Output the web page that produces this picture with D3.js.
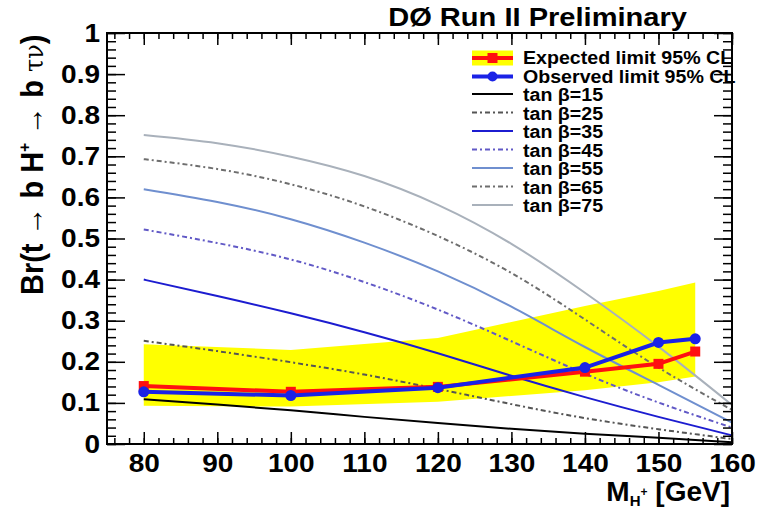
<!DOCTYPE html>
<html lang="en">
<head>
<meta charset="UTF-8">
<title>Br(t -> bH+) limits</title>
<script src="https://d3js.org/d3.v7.min.js"></script>
<style>
body {
  margin: 0;
  background: white;
}
svg {
  display: block;
  font-family: "Liberation Sans", Arial, sans-serif;
  font-weight: bold;
}
</style>
</head>
<body>
<svg></svg>
<script>
// limit points (GeV, branching ratio)
const masses = [80, 100, 120, 140, 150, 155];
const expected = [0.141, 0.127, 0.139, 0.176, 0.195, 0.225];
const observed = [0.127, 0.118, 0.137, 0.186, 0.247, 0.256];
const bandLow = [0.093, 0.091, 0.103, 0.131, 0.150, 0.164];
const bandHigh = [0.243, 0.229, 0.258, 0.336, 0.372, 0.393];

// theory curves for several tan beta
const theoryMass = [80, 90, 100, 110, 120, 130, 140, 150, 160];
const tanBetas = [15, 25, 35, 45, 55, 65, 75];
const tan15 = [0.109, 0.096, 0.082, 0.066, 0.051, 0.037, 0.025, 0.015, 0.004];
const tan25 = [0.251, 0.226, 0.199, 0.169, 0.134, 0.097, 0.063, 0.036, 0.012];
const tan35 = [0.400, 0.360, 0.318, 0.272, 0.221, 0.166, 0.114, 0.066, 0.021];
const tan45 = [0.522, 0.489, 0.449, 0.394, 0.327, 0.250, 0.171, 0.101, 0.040];
const tan55 = [0.620, 0.589, 0.547, 0.490, 0.420, 0.334, 0.236, 0.144, 0.052];
const tan65 = [0.693, 0.669, 0.632, 0.578, 0.506, 0.416, 0.303, 0.186, 0.083];
const tan75 = [0.752, 0.732, 0.699, 0.652, 0.582, 0.487, 0.368, 0.237, 0.095];
const theory = [tan15, tan25, tan35, tan45, tan55, tan65, tan75];

const xTicks = [80, 90, 100, 110, 120, 130, 140, 150, 160];
const yTicks = [0, 0.1, 0.2, 0.3, 0.4, 0.5, 0.6, 0.7, 0.8, 0.9, 1];

let width = 760;
let height = 508;
let padL = 107, padR = 732, padT = 33, padB = 444;

let svg = d3.select("svg")
  .attr("width", width)
  .attr("height", height);

let x = d3.scaleLinear().domain([75, 160]).range([padL, padR]);
let y = d3.scaleLinear().domain([0, 1]).range([padB, padT]);

// the original picture has slightly wide lettering
function stretch(sel, f) {
  sel.each(function() {
    let len = this.getComputedTextLength();
    d3.select(this)
      .attr("textLength", len * f)
      .attr("lengthAdjust", "spacingAndGlyphs");
  });
}

// style of each tan beta line
let dashDot = "5,3,2,3";
let styles = [
  {color: "#000000", dash: null},
  {color: "#555555", dash: dashDot},
  {color: "#1c1cd0", dash: null},
  {color: "#6159c6", dash: dashDot},
  {color: "#6f8fcf", dash: null},
  {color: "#6e6e6e", dash: dashDot},
  {color: "#a9b1bb", dash: null}
];

// yellow band
let band = masses.map((m, i) => ({m: m, lo: bandLow[i], hi: bandHigh[i]}));
svg.append("path")
  .attr("d", d3.area()
    .x(d => x(d.m))
    .y0(d => y(d.lo))
    .y1(d => y(d.hi))(band))
  .attr("fill", "#ffff00");

// theory lines
let line = d3.line()
  .x(d => x(d.m))
  .y(d => y(d.v))
  .curve(d3.curveNatural);
theory.forEach((vals, k) => {
  let pts = theoryMass.map((m, i) => ({m: m, v: vals[i]}));
  svg.append("path")
    .attr("d", line(pts))
    .attr("fill", "none")
    .attr("stroke", styles[k].color)
    .attr("stroke-width", 2)
    .attr("stroke-dasharray", styles[k].dash);
});

// expected and observed limits
let expPts = masses.map((m, i) => ({m: m, v: expected[i]}));
let obsPts = masses.map((m, i) => ({m: m, v: observed[i]}));
let straight = d3.line().x(d => x(d.m)).y(d => y(d.v));

svg.append("path")
  .attr("d", straight(expPts))
  .attr("fill", "none")
  .attr("stroke", "#ff1010")
  .attr("stroke-width", 4);
svg.selectAll(".sq").data(expPts).enter().append("rect")
  .attr("x", d => x(d.m) - 5)
  .attr("y", d => y(d.v) - 5)
  .attr("width", 10)
  .attr("height", 10)
  .attr("fill", "#ff1010");

svg.append("path")
  .attr("d", straight(obsPts))
  .attr("fill", "none")
  .attr("stroke", "#1a22e6")
  .attr("stroke-width", 4);
svg.selectAll(".dot").data(obsPts).enter().append("circle")
  .attr("cx", d => x(d.m))
  .attr("cy", d => y(d.v))
  .attr("r", 5.5)
  .attr("fill", "#1a22e6");

// axes, ticks pointing inward like ROOT
function tickFmt(d) { return +d.toFixed(1); }

svg.append("g")
  .attr("transform", "translate(0," + padB + ")")
  .call(d3.axisBottom(x).tickValues(d3.range(76, 160.5, 2)).tickSizeInner(-6).tickSizeOuter(0).tickFormat(""));
svg.append("g")
  .attr("class", "xaxis")
  .attr("transform", "translate(0," + padB + ")")
  .call(d3.axisBottom(x).tickValues(xTicks).tickSizeInner(-12).tickSizeOuter(0).tickPadding(10));
svg.append("g")
  .attr("transform", "translate(0," + padT + ")")
  .call(d3.axisTop(x).tickValues(d3.range(76, 160.5, 2)).tickSizeInner(-6).tickSizeOuter(0).tickFormat(""));
svg.append("g")
  .attr("transform", "translate(0," + padT + ")")
  .call(d3.axisTop(x).tickValues(xTicks).tickSizeInner(-12).tickSizeOuter(0).tickFormat(""));

svg.append("g")
  .attr("transform", "translate(" + padL + ",0)")
  .call(d3.axisLeft(y).tickValues(d3.range(0, 1.001, 0.02)).tickSizeInner(-9).tickSizeOuter(0).tickFormat(""));
svg.append("g")
  .attr("class", "yaxis")
  .attr("transform", "translate(" + padL + ",0)")
  .call(d3.axisLeft(y).tickValues(yTicks).tickSizeInner(-18).tickSizeOuter(0).tickPadding(7).tickFormat(tickFmt));
svg.append("g")
  .attr("transform", "translate(" + padR + ",0)")
  .call(d3.axisRight(y).tickValues(d3.range(0, 1.001, 0.02)).tickSizeInner(-9).tickSizeOuter(0).tickFormat(""));
svg.append("g")
  .attr("transform", "translate(" + padR + ",0)")
  .call(d3.axisRight(y).tickValues(yTicks).tickSizeInner(-18).tickSizeOuter(0).tickFormat(""));

svg.selectAll(".domain").remove();
svg.selectAll(".tick line").attr("stroke", "#000").attr("stroke-width", 1.5);
let tickText = svg.selectAll(".xaxis text, .yaxis text")
  .attr("fill", "#000")
  .style("font-size", "25px")
  .style("font-family", "Liberation Sans, Arial, sans-serif")
  .style("font-weight", "bold");
stretch(tickText, 1.12);

// frame
svg.append("rect")
  .attr("x", padL)
  .attr("y", padT)
  .attr("width", padR - padL)
  .attr("height", padB - padT)
  .attr("fill", "none")
  .attr("stroke", "#000")
  .attr("stroke-width", 2);

// titles
let title = svg.append("text")
  .attr("x", 687)
  .attr("y", 26)
  .attr("text-anchor", "end")
  .style("font-size", "25.5px")
  .text("DØ Run II Preliminary");
stretch(title, 1.14);

let xt = svg.append("text")
  .attr("x", 730)
  .attr("y", 501)
  .attr("text-anchor", "end")
  .style("font-size", "28px");
xt.append("tspan").text("M");
xt.append("tspan").attr("dy", 5).style("font-size", "15px").text("H");
xt.append("tspan").attr("dy", -10).style("font-size", "12px").text("+");
xt.append("tspan").attr("dy", 5).text(" [GeV]");

let yt = svg.append("text")
  .attr("transform", "translate(43,295) rotate(-90) scale(1,1.1)")
  .attr("text-anchor", "start")
  .style("font-size", "29px");
yt.append("tspan").text("Br(t → b H");
yt.append("tspan").attr("dy", -12).style("font-size", "15px").text("+");
yt.append("tspan").attr("dy", 12).text(" → b ");
yt.append("tspan").style("font-weight", "normal").style("font-family", "DejaVu Serif, serif").style("font-size", "24px").text("τν");
yt.append("tspan").text(")");

// legend
let legRow = 18.5;
let legX0 = 472, legX1 = 513, legText = 523, legY = 58;
let legendLabels = ["Expected limit 95% CL", "Observed limit 95% CL"]
  .concat(tanBetas.map(t => "tan β=" + t));
let legend = svg.append("g");

legend.append("rect")
  .attr("x", legX0).attr("y", legY - 7.5)
  .attr("width", legX1 - legX0).attr("height", 15)
  .attr("fill", "#ffff00");
legend.append("line")
  .attr("x1", legX0).attr("x2", legX1)
  .attr("y1", legY).attr("y2", legY)
  .attr("stroke", "#ff1010").attr("stroke-width", 4);
legend.append("rect")
  .attr("x", (legX0 + legX1) / 2 - 5).attr("y", legY - 5)
  .attr("width", 10).attr("height", 10)
  .attr("fill", "#ff1010");

legend.append("line")
  .attr("x1", legX0).attr("x2", legX1)
  .attr("y1", legY + legRow).attr("y2", legY + legRow)
  .attr("stroke", "#1a22e6").attr("stroke-width", 4);
legend.append("circle")
  .attr("cx", (legX0 + legX1) / 2).attr("cy", legY + legRow)
  .attr("r", 5)
  .attr("fill", "#1a22e6");

tanBetas.forEach((t, k) => {
  let yy = legY + legRow * (k + 2) - 1;
  legend.append("line")
    .attr("x1", legX0).attr("x2", legX1)
    .attr("y1", yy).attr("y2", yy)
    .attr("stroke", styles[k].color)
    .attr("stroke-width", 2)
    .attr("stroke-dasharray", styles[k].dash);
});

let legTexts = legend.selectAll("text").data(legendLabels).enter().append("text")
  .attr("x", legText)
  .attr("y", (d, i) => legY + legRow * i + 6)
  .style("font-size", "17.5px")
  .text(d => d);
stretch(legTexts, 1.12);
</script>
</body>
</html>
